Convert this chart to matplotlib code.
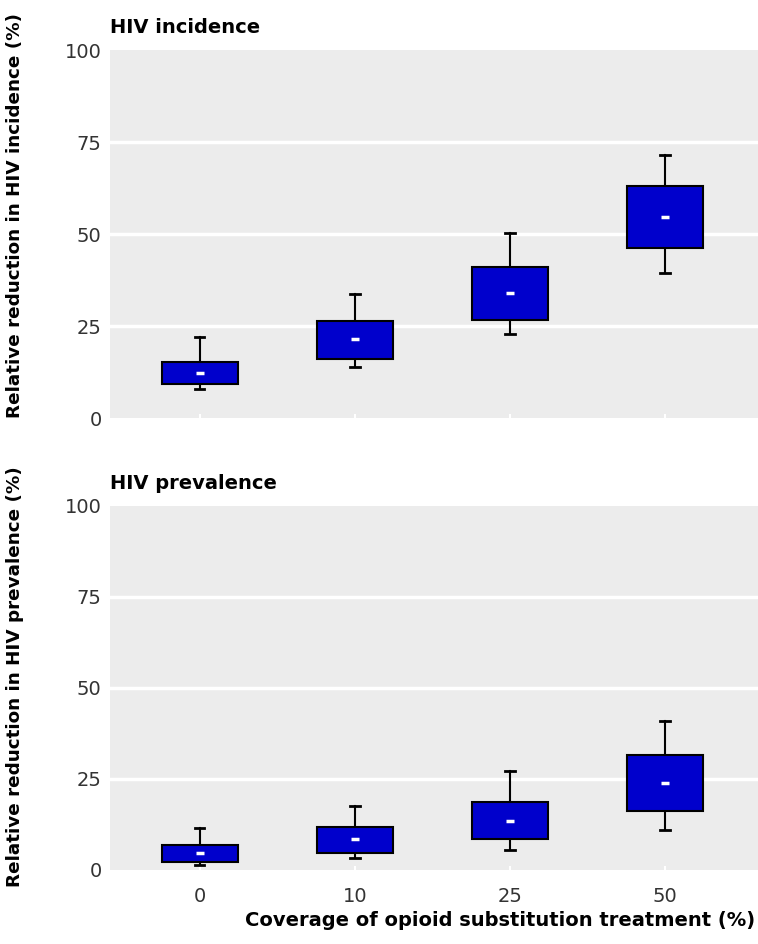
import matplotlib
matplotlib.use("Agg")
import matplotlib.pyplot as plt
from matplotlib.patches import Rectangle

categories = ["0", "10", "25", "50"]

# HIV incidence: whisker low, box low (q1), median, box high (q3), whisker high
inc_low = [7.9, 13.9, 23.0, 39.5]
inc_q1 = [9.3, 16.2, 26.8, 46.1]
inc_med = [12.3, 21.5, 34.1, 54.7]
inc_q3 = [15.3, 26.4, 41.1, 63.2]
inc_high = [22.1, 33.8, 50.2, 71.5]

# HIV prevalence
prev_low = [1.4, 3.2, 5.6, 10.9]
prev_q1 = [2.3, 4.7, 8.6, 16.2]
prev_med = [4.7, 8.5, 13.5, 23.8]
prev_q3 = [6.8, 11.9, 18.8, 31.6]
prev_high = [11.5, 17.7, 27.3, 40.8]

yticks = [0, 25, 50, 75, 100]

plt.rcParams["font.family"] = ["DejaVu Sans"]

fig = plt.figure(figsize=(7.58, 9.44), dpi=100)
ax1 = fig.add_axes([0.145, 0.557, 0.855, 0.390])
ax2 = fig.add_axes([0.145, 0.0784, 0.855, 0.3856])

BOX_W = 0.49
CAP_W = 0.03
MED_W = 0.05


def draw(ax, low, q1, med, q3, high, title, ylabel, show_x):
    ax.set_facecolor("#ececec")
    for s in ax.spines.values():
        s.set_visible(False)
    ax.set_xlim(-0.58, 3.6)
    ax.set_ylim(0, 100)
    ax.set_yticks(yticks)
    ax.set_yticklabels([str(v) for v in yticks], fontsize=14, color="#333333")
    for v in yticks[1:-1]:
        ax.axhline(v, color="white", lw=2.5, zorder=1)
    ax.set_xticks(range(len(categories)))
    if show_x:
        ax.set_xticklabels(categories, fontsize=14, color="#333333")
    else:
        ax.set_xticklabels([])
    ax.tick_params(axis="y", length=0, pad=6)
    ax.tick_params(axis="x", direction="in", length=3, width=1.5, color="white", pad=12)
    for i in range(len(categories)):
        ax.plot([i, i], [low[i], q1[i]], color="black", lw=1.5, zorder=2)
        ax.plot([i, i], [q3[i], high[i]], color="black", lw=1.5, zorder=2)
        ax.plot([i - CAP_W, i + CAP_W], [high[i], high[i]], color="black", lw=2, zorder=2)
        ax.plot([i - CAP_W, i + CAP_W], [low[i], low[i]], color="black", lw=2, zorder=2)
        ax.add_patch(Rectangle((i - BOX_W / 2, q1[i]), BOX_W, q3[i] - q1[i],
                               facecolor="#0000cc", edgecolor="black", lw=1.5, zorder=3))
        ax.plot([i - MED_W / 2, i + MED_W / 2], [med[i], med[i]], color="white",
                lw=2.5, zorder=4, solid_capstyle="butt")
    ax.text(0.0, 1.035, title, transform=ax.transAxes, fontsize=14, fontweight="bold",
            ha="left", va="bottom")
    ax.set_ylabel(ylabel, fontsize=13.2, fontweight="bold")


draw(ax1, inc_low, inc_q1, inc_med, inc_q3, inc_high, "HIV incidence",
     "Relative reduction in HIV incidence (%)", False)
draw(ax2, prev_low, prev_q1, prev_med, prev_q3, prev_high, "HIV prevalence",
     "Relative reduction in HIV prevalence (%)", True)

ax1.yaxis.set_label_coords(-0.133, 0.55)
ax2.yaxis.set_label_coords(-0.133, 0.53)

fig.text(0.996, 0.0145, "Coverage of opioid substitution treatment (%)", fontsize=14,
         fontweight="bold", ha="right", va="bottom")

fig.savefig("out.png", dpi=100)
